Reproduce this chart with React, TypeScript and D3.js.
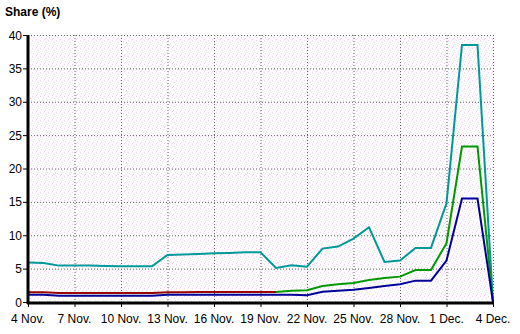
import React from "react";
import * as d3 from "d3";

const days: string[] = [
  "4 Nov", "5 Nov", "6 Nov", "7 Nov", "8 Nov", "9 Nov", "10 Nov", "11 Nov", "12 Nov", "13 Nov",
  "14 Nov", "15 Nov", "16 Nov", "17 Nov", "18 Nov", "19 Nov", "20 Nov", "21 Nov", "22 Nov", "23 Nov",
  "24 Nov", "25 Nov", "26 Nov", "27 Nov", "28 Nov", "29 Nov", "30 Nov", "1 Dec", "2 Dec", "3 Dec", "4 Dec",
];
const xTickLabels: string[] = ["4 Nov.", "7 Nov.", "10 Nov.", "13 Nov.", "16 Nov.", "19 Nov.", "22 Nov.", "25 Nov.", "28 Nov.", "1 Dec.", "4 Dec."];
const yTicks: number[] = [0, 5, 10, 15, 20, 25, 30, 35, 40];

const tealValues: (number | null)[] = [
  5.9, 5.85, 5.45, 5.45, 5.45, 5.4, 5.35, 5.35, 5.35, 7.05,
  7.1, 7.2, 7.3, 7.35, 7.45, 7.45, 5.1, 5.5, 5.3, 8.0,
  8.3, 9.5, 11.2, 6.0, 6.2, 8.1, 8.1, 14.8, 38.5, 38.5, 0,
];
const greenValues: (number | null)[] = [
  null, null, null, null, null, null, null, null, null, null,
  null, null, null, null, null, 1.5, 1.5, 1.7, 1.75, 2.4,
  2.65, 2.85, 3.3, 3.6, 3.8, 4.8, 4.8, 8.8, 23.3, 23.3, 0,
];
const redValues: (number | null)[] = [
  1.45, 1.45, 1.35, 1.35, 1.35, 1.35, 1.35, 1.35, 1.35, 1.45,
  1.45, 1.5, 1.5, 1.5, 1.5, 1.5, 1.5, null, null, null,
  null, null, null, null, null, null, null, null, null, null, null,
];
const blueValues: (number | null)[] = [
  1.1, 1.1, 0.95, 0.95, 0.95, 0.95, 0.95, 0.95, 0.95, 1.1,
  1.1, 1.1, 1.1, 1.1, 1.1, 1.1, 1.1, 1.1, 1.0, 1.55,
  1.7, 1.85, 2.1, 2.4, 2.65, 3.2, 3.2, 6.2, 15.5, 15.5, 0,
];

const series = [
  { name: "teal", color: "#009999", values: tealValues },
  { name: "green", color: "#009900", values: greenValues },
  { name: "red", color: "#990000", values: redValues },
  { name: "blue", color: "#000099", values: blueValues },
];

const pinkPx: [number, number][] = [[0, 0], [6, 2], [1, 5], [4, 7]];
const greenPx: [number, number][] = [[3, 1], [7, 4], [2, 3], [5, 6]];

export default function App() {
  const W = 520, H = 334;
  const left = 28, right = 493, top = 35, bottom = 302;
  const x = d3.scaleLinear().domain([0, days.length - 1]).range([left, right]);
  const y = d3.scaleLinear().domain([0, 40]).range([bottom, top]);
  const line = d3.line<number | null>()
    .defined((d) => d !== null)
    .x((_, i) => x(i))
    .y((d) => y(d as number));
  const font = "'Liberation Sans', Arial, sans-serif";
  return (
    <svg width={W} height={H} style={{ position: "absolute", left: 0, top: 0, background: "#fff" }}>
      <defs>
        <pattern id="bg" width={8} height={8} patternUnits="userSpaceOnUse">
          <rect width={8} height={8} fill="#fefcfe" />
          {pinkPx.map(([a, b], i) => (
            <rect key={"p" + i} x={a} y={b} width={1} height={1} fill="#f2d2f2" />
          ))}
          {greenPx.map(([a, b], i) => (
            <rect key={"g" + i} x={a} y={b} width={1} height={1} fill="#d6f2d6" />
          ))}
        </pattern>
      </defs>
      <rect x={left} y={top} width={right - left} height={bottom - top} fill="url(#bg)" />
      {yTicks.filter((t) => t > 0).map((t) => (
        <line key={"hy" + t} x1={left} x2={right} y1={y(t) + 0.5} y2={y(t) + 0.5}
          stroke="#666" strokeWidth={1} strokeDasharray="1,2" />
      ))}
      {xTickLabels.map((l, i) => i > 0 && (
        <line key={"vx" + i} x1={x(i * 3) + 0.5} x2={x(i * 3) + 0.5} y1={top} y2={bottom}
          stroke="#666" strokeWidth={1} strokeDasharray="1,2" />
      ))}
      {series.map((s) => (
        <path key={s.name} d={line(s.values) || ""} fill="none" stroke={s.color} strokeWidth={2} />
      ))}
      <line x1={left} x2={left} y1={top} y2={bottom + 2} stroke="#000" strokeWidth={3} />
      <line x1={left - 1} x2={right + 1} y1={bottom + 1} y2={bottom + 1} stroke="#000" strokeWidth={3} />
      {yTicks.map((t) => (
        <g key={"yt" + t}>
          <line x1={left - 5} x2={left} y1={y(t) + 0.5} y2={y(t) + 0.5} stroke="#000" strokeWidth={1} />
          <text x={left - 6} y={y(t) + 4.5} textAnchor="end" fontFamily={font} fontSize={12} fill="#000">{t}</text>
        </g>
      ))}
      {xTickLabels.map((l, i) => (
        <g key={"xt" + i}>
          <line x1={x(i * 3) + 0.5} x2={x(i * 3) + 0.5} y1={bottom} y2={bottom + 5} stroke="#000" strokeWidth={1} />
          <text x={x(i * 3)} y={323} textAnchor="middle" fontFamily={font} fontSize={12} fill="#000">{l}</text>
        </g>
      ))}
      <text x={5} y={16} fontFamily={font} fontSize={12} fontWeight="bold" fill="#000">Share (%)</text>
    </svg>
  );
}
